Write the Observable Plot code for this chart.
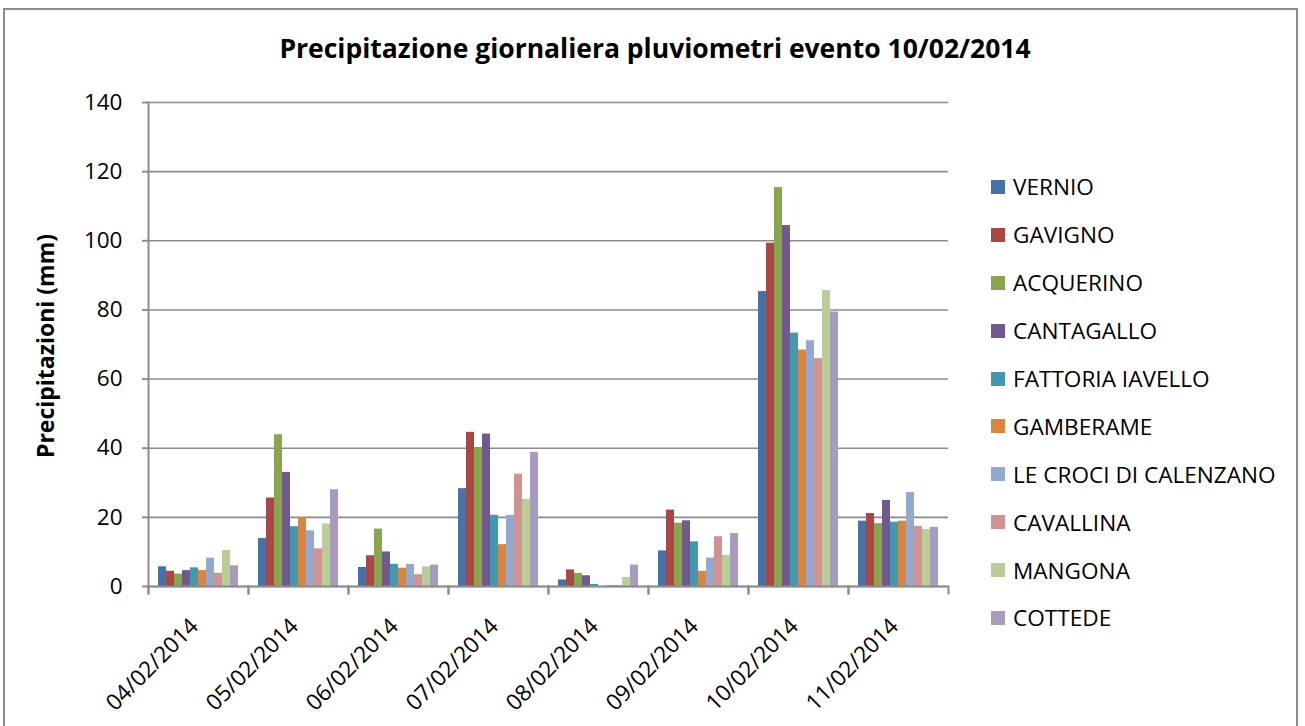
<!DOCTYPE html>
<html>
<head>
<meta charset="utf-8">
<script src="https://cdn.jsdelivr.net/npm/d3@7"></script>
<script src="https://cdn.jsdelivr.net/npm/@observablehq/plot@0.6"></script>
<style>
  html, body { margin: 0; padding: 0; background: #fff; overflow: hidden; }
  body { font-family: "Open Sans", sans-serif; color: #000; }
  #wrap { position: relative; width: 1305px; height: 726px; }
  #border { position: absolute; left: 3px; top: 8px; width: 1295px; height: 760px; border: 2px solid #8c8c8c; box-sizing: border-box; }
  #title { position: absolute; left: 0; top: 0; width: 1310px; height: 80px; line-height: 96px; text-align: center; font-weight: bold; font-size: 26.5px; }
  #chart { position: absolute; left: 0; top: 80px; }
  #ytitle { position: absolute; left: 45px; top: 346px; transform: translate(-50%, -50%) rotate(-90deg); font-weight: bold; font-size: 23px; white-space: nowrap; }
  #legend { position: absolute; left: 991px; top: 163px; }
  .row { height: 47.9px; display: flex; align-items: center; font-size: 22.6px; white-space: nowrap; }
  .sw { width: 14px; height: 14px; margin-right: 8px; flex: none; }
</style>
</head>
<body>
<div id="wrap">
  <div id="border"></div>
  <div id="title"></div>
  <div id="chart"></div>
  <div id="ytitle"></div>
  <div id="legend"></div>
</div>
<script>
// ---- data ----
const titleText = "Precipitazione giornaliera pluviometri evento 10/02/2014";
const yTitle = "Precipitazioni (mm)";
const dates = ["04/02/2014", "05/02/2014", "06/02/2014", "07/02/2014", "08/02/2014", "09/02/2014", "10/02/2014", "11/02/2014"];
const stations = ["VERNIO", "GAVIGNO", "ACQUERINO", "CANTAGALLO", "FATTORIA IAVELLO", "GAMBERAME", "LE CROCI DI CALENZANO", "CAVALLINA", "MANGONA", "COTTEDE"];
const colors = ["#4572A7", "#AA4643", "#89A54E", "#71588F", "#4198AF", "#DB843D", "#93A9CF", "#D19392", "#B9CD96", "#A99BBD"];
const yTicks = [0, 20, 40, 60, 80, 100, 120, 140];

const vernio     = [5.7, 13.9, 5.5, 28.3, 1.9, 10.3, 85.3, 18.9];
const gavigno    = [4.4, 25.6, 8.9, 44.6, 4.8, 22.1, 99.3, 21.1];
const acquerino  = [3.6, 43.9, 16.6, 40.2, 3.8, 18.3, 115.4, 18.2];
const cantagallo = [4.6, 33.0, 10.0, 44.1, 3.1, 19.0, 104.4, 24.9];
const fattoria   = [5.4, 17.3, 6.4, 20.6, 0.6, 12.9, 73.3, 18.6];
const gamberame  = [4.6, 20.0, 5.3, 12.1, 0.0, 4.4, 68.4, 18.9];
const leCroci    = [8.2, 16.1, 6.4, 20.6, 0.3, 8.2, 71.1, 27.2];
const cavallina  = [3.8, 10.9, 3.4, 32.5, 0.3, 14.4, 65.9, 17.4];
const mangona    = [10.4, 18.1, 5.7, 25.2, 2.6, 9.0, 85.6, 16.5];
const cottede    = [6.0, 28.0, 6.2, 38.8, 6.2, 15.3, 79.4, 17.1];

const seriesValues = [vernio, gavigno, acquerino, cantagallo, fattoria, gamberame, leCroci, cavallina, mangona, cottede];
const rows = stations.flatMap((s, k) => dates.map((d, i) => ({date: d, station: s, value: seriesValues[k][i]})));

// ---- layout ----
const W = 1305, H = 646, mT = 22, mB = 140, mL = 147, mR = 357;
const plotH = H - mT - mB;
const axisGray = "#8c8c8c";

const chart = Plot.plot({
  width: W, height: H,
  marginTop: mT, marginBottom: mB, marginLeft: mL, marginRight: mR,
  style: {fontFamily: "'Open Sans', sans-serif", fontSize: "22.5px", color: "#000", background: "transparent", overflow: "visible"},
  fx: {domain: dates, padding: 0, label: null},
  x: {domain: stations, paddingInner: 0, paddingOuter: 0.75, axis: null},
  y: {domain: [0, 140], label: null},
  color: {domain: stations, range: colors},
  marks: [
    Plot.gridY(yTicks, {stroke: axisGray, strokeOpacity: 1, strokeWidth: 1.6}),
    Plot.barY(rows, {fx: "date", x: "station", y: "value", fill: "station", inset: 0}),
    Plot.ruleY([0], {stroke: axisGray, strokeWidth: 2}),
    Plot.frame({anchor: "left", facetAnchor: "left", insetBottom: -7, stroke: axisGray, strokeWidth: 2}),
    Plot.frame({anchor: "left", insetTop: plotH, insetBottom: -7, stroke: axisGray, strokeWidth: 2}),
    Plot.frame({anchor: "right", insetTop: plotH, insetBottom: -7, stroke: axisGray, strokeWidth: 2}),
    Plot.axisY(yTicks, {tickSize: 6, tickPadding: 20, stroke: axisGray, strokeWidth: 2, label: null, fill: "#000"}),
    Plot.axisFx({anchor: "bottom", tickRotate: -45, tickSize: 0, tickPadding: 36, dx: -4, label: null, fill: "#000"})
  ]
});
document.getElementById("chart").appendChild(chart);

document.getElementById("title").textContent = titleText;
document.getElementById("ytitle").textContent = yTitle;

const color = chart.scale("color");
const legend = document.getElementById("legend");
for (const s of stations) {
  const row = document.createElement("div");
  row.className = "row";
  const sw = document.createElement("span");
  sw.className = "sw";
  sw.style.background = colors[color.domain.indexOf(s)];
  const t = document.createElement("span");
  t.textContent = s;
  row.appendChild(sw);
  row.appendChild(t);
  legend.appendChild(row);
}
</script>
</body>
</html>
